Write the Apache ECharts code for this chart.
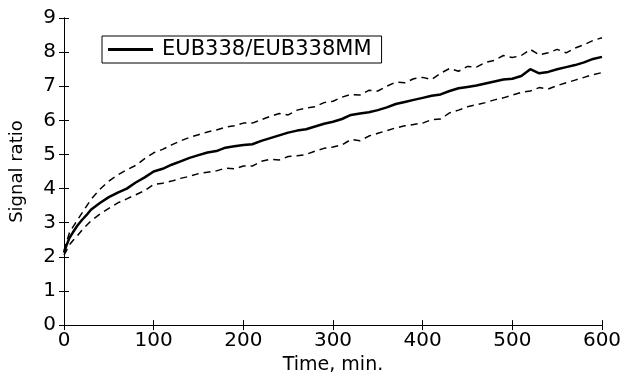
<!DOCTYPE html>
<html>
<head>
<meta charset="utf-8">
<script src="https://cdn.jsdelivr.net/npm/echarts@6/dist/echarts.min.js"></script>
<style>
html,body{margin:0;padding:0;background:#fff;}
#chart{width:626px;height:380px;}
</style>
</head>
<body>
<div id="chart"></div>
<script>
const times = [0,3,6,10,15,20,25,30,40,50,60,70,80,90,100,110,120,130,140,150,160,170,180,190,200,210,220,230,240,250,260,270,280,290,300,310,320,330,340,350,360,370,380,390,400,410,420,430,440,450,460,470,480,490,500,510,520,530,540,550,560,570,580,590,600];
const meanRatio = [2.12,2.35,2.55,2.72,2.92,3.08,3.22,3.38,3.58,3.75,3.88,4.00,4.18,4.33,4.50,4.58,4.70,4.80,4.90,4.98,5.06,5.10,5.20,5.24,5.28,5.30,5.40,5.48,5.56,5.64,5.70,5.74,5.82,5.90,5.96,6.04,6.16,6.20,6.24,6.30,6.38,6.48,6.54,6.60,6.66,6.72,6.76,6.86,6.94,6.98,7.02,7.08,7.14,7.20,7.22,7.30,7.50,7.38,7.42,7.50,7.56,7.62,7.70,7.80,7.86];
const upperRatio = [2.18,2.45,2.70,2.88,3.08,3.28,3.48,3.68,3.98,4.22,4.40,4.55,4.68,4.88,5.05,5.15,5.28,5.40,5.50,5.58,5.66,5.72,5.80,5.84,5.92,5.92,6.02,6.12,6.20,6.16,6.30,6.36,6.40,6.52,6.56,6.68,6.76,6.74,6.88,6.86,7.00,7.12,7.10,7.22,7.26,7.20,7.38,7.52,7.44,7.58,7.56,7.70,7.76,7.90,7.84,7.90,8.08,7.92,7.98,8.08,7.98,8.12,8.22,8.34,8.42];
const lowerRatio = [2.05,2.20,2.35,2.48,2.62,2.78,2.92,3.05,3.25,3.42,3.58,3.70,3.82,3.94,4.12,4.16,4.22,4.30,4.36,4.44,4.48,4.52,4.60,4.58,4.66,4.66,4.80,4.86,4.84,4.94,4.96,5.00,5.10,5.18,5.22,5.28,5.44,5.40,5.54,5.62,5.70,5.78,5.84,5.88,5.92,6.02,6.04,6.22,6.30,6.40,6.46,6.52,6.60,6.66,6.74,6.82,6.86,6.96,6.92,7.02,7.10,7.18,7.26,7.34,7.40];
const seriesName = 'EUB338/EUB338MM';
const xTitle = 'Time, min.';
const yTitle = 'Signal ratio';

const pair = arr => times.map((t,i)=>[t,arr[i]]);
const font = 'DejaVu Sans';
const chart = echarts.init(document.getElementById('chart'), null, {renderer:'canvas'});
const axisCommon = {
  axisLine:{show:true,lineStyle:{color:'#000',width:1}},
  axisTick:{show:true,inside:true,length:5,lineStyle:{color:'#000'}},
  splitLine:{show:false}
};
chart.setOption({
  animation:false,
  backgroundColor:'#fff',
  grid:{left:61,right:24,top:18,bottom:42,containLabel:false},
  legend:{
    data:[{name:seriesName,icon:'rect'}],
    left:102, top:36,
    itemWidth:45, itemHeight:3,
    padding:[3,10,3,6],
    borderColor:'#000', borderWidth:1, backgroundColor:'#fff',
    textStyle:{fontFamily:font,fontSize:21,color:'#000',padding:[0,0,0,4]}
  },
  xAxis:[
    Object.assign({type:'value',min:0,max:600,interval:100,position:'bottom',
      name:xTitle,nameLocation:'middle',nameGap:26,
      nameTextStyle:{fontFamily:font,fontSize:19,color:'#000'},
      axisLabel:{fontFamily:font,fontSize:20,color:'#000',margin:6}},axisCommon),
    Object.assign({type:'value',min:0,max:600,interval:100,position:'top',
      axisLabel:{show:false}},axisCommon)
  ],
  yAxis:[
    Object.assign({type:'value',min:0,max:9,interval:1,position:'left',
      name:yTitle,nameLocation:'middle',nameGap:38,
      nameTextStyle:{fontFamily:font,fontSize:18,color:'#000'},
      axisLabel:{fontFamily:font,fontSize:20,color:'#000',margin:8}},axisCommon),
    Object.assign({type:'value',min:0,max:9,interval:1,position:'right',
      axisLabel:{show:false}},axisCommon)
  ],
  series:[
    {name:'upper',type:'line',data:pair(upperRatio),showSymbol:false,
      lineStyle:{color:'#000',width:1.5,type:[7,5]},silent:true},
    {name:'lower',type:'line',data:pair(lowerRatio),showSymbol:false,
      lineStyle:{color:'#000',width:1.5,type:[7,5]},silent:true},
    {name:seriesName,type:'line',data:pair(meanRatio),showSymbol:false,
      itemStyle:{color:'#000'},
      lineStyle:{color:'#000',width:2.5}}
  ]
});
</script>
</body>
</html>
